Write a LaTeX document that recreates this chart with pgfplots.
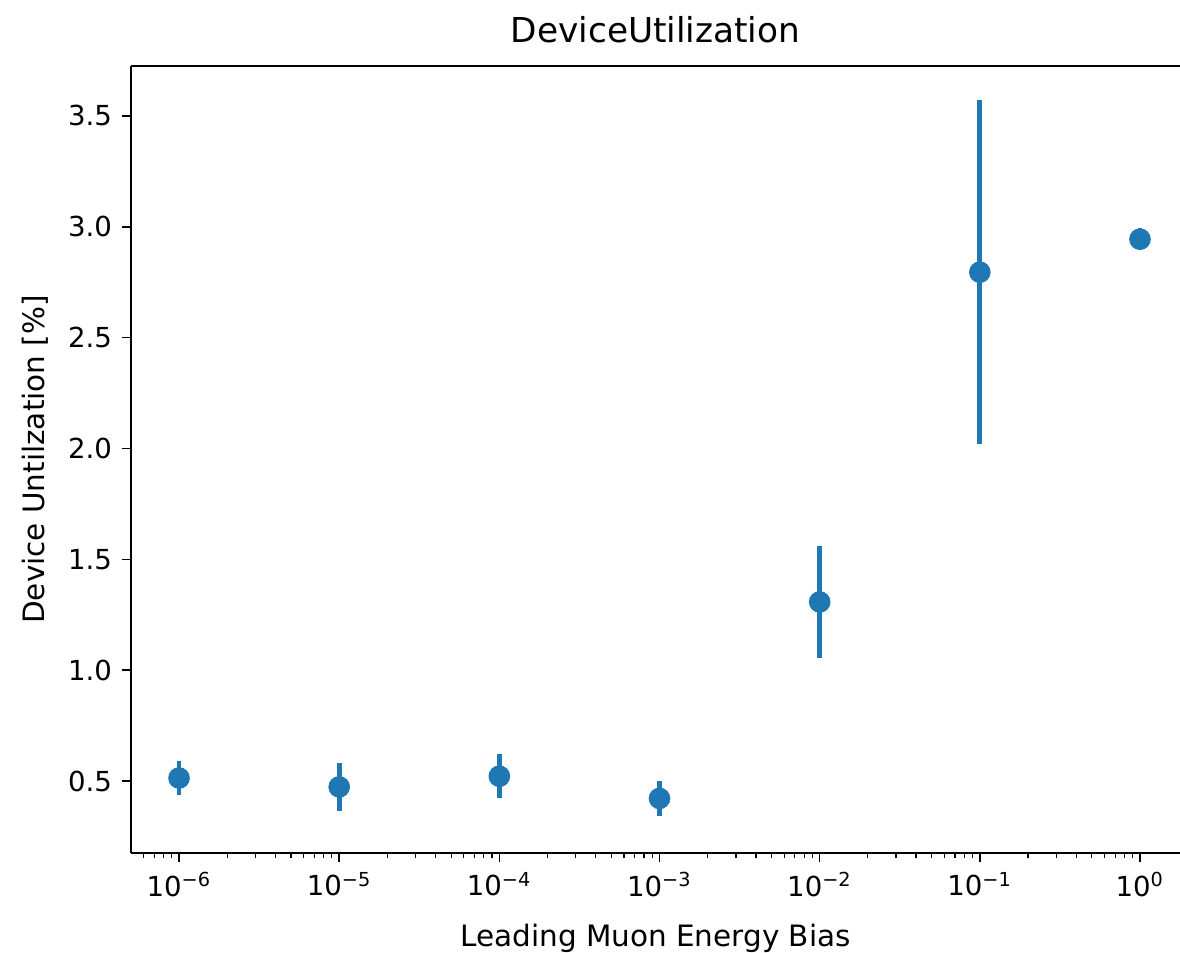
\documentclass[border=0pt]{standalone}
\usepackage{fontspec}
\setmainfont{DejaVu Sans}
\usepackage{pgfplots}
\pgfplotsset{compat=1.18}
\definecolor{mplblue}{HTML}{1F77B4}

\begin{document}
\begin{tikzpicture}
\begin{semilogxaxis}[
    at={(0,0)}, anchor=south west,
    scale only axis,
    width=388.13pt, height=291.19pt,
    xmin=5.012e-7, xmax=1.778,
    ymin=0.176, ymax=3.725,
    log basis x=10,
    axis x line*=box,
    axis y line*=left,
    axis line style={line width=0.6pt},
    tick align=outside,
    xtick pos=bottom, ytick pos=left,
    xtick={1e-6,1e-5,1e-4,1e-3,1e-2,1e-1,1},
    xticklabels={10\textsuperscript{−6},10\textsuperscript{−5},10\textsuperscript{−4},10\textsuperscript{−3},10\textsuperscript{−2},10\textsuperscript{−1},10\textsuperscript{0}},
    minor xtick={6e-7,7e-7,8e-7,9e-7,
      2e-6,3e-6,4e-6,5e-6,6e-6,7e-6,8e-6,9e-6,
      2e-5,3e-5,4e-5,5e-5,6e-5,7e-5,8e-5,9e-5,
      2e-4,3e-4,4e-4,5e-4,6e-4,7e-4,8e-4,9e-4,
      2e-3,3e-3,4e-3,5e-3,6e-3,7e-3,8e-3,9e-3,
      2e-2,3e-2,4e-2,5e-2,6e-2,7e-2,8e-2,9e-2,
      0.2,0.3,0.4,0.5,0.6,0.7,0.8,0.9},
    ytick={0.5,1.0,1.5,2.0,2.5,3.0,3.5},
    yticklabel style={/pgf/number format/.cd,fixed,fixed zerofill,precision=1,assume math mode=true},
    major tick length=3.5pt,
    minor tick length=2pt,
    every tick/.style={black, line width=0.6pt},
    every minor tick/.style={black, line width=0.45pt},
    tick label style={font=\fontsize{10.2}{12}\selectfont},
    label style={font=\fontsize{10.9}{13}\selectfont},
    title style={font=\fontsize{12.7}{15}\selectfont, yshift=-1pt},
    title={DeviceUtilization},
    xlabel={Leading Muon Energy Bias},
    ylabel={Device Untilzation [\%]},
    xlabel style={yshift=-3.5pt},
    ylabel style={yshift=0.5pt},
]
\addplot+[only marks, mark=*, mark size=3.8pt, color=mplblue,
    mark options={fill=mplblue, draw=mplblue},
    error bars/.cd, y dir=both, y explicit, error mark=none,
    error bar style={line width=1.75pt, mplblue}]
  table[x=x, y=y, y error=e] {
x      y      e
1e-6   0.514  0.075
1e-5   0.474  0.108
1e-4   0.522  0.100
1e-3   0.422  0.080
1e-2   1.308  0.252
1e-1   2.795  0.776
1      2.944  0.050
};
\end{semilogxaxis}
\pgfresetboundingbox
\path[use as bounding box] (-48.47pt,-37pt) rectangle (388.13pt,315.61pt);
\end{tikzpicture}
\end{document}
